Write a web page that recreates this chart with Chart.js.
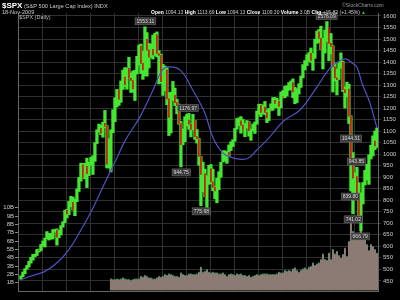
<!DOCTYPE html>
<html>
<head>
<meta charset="utf-8">
<script src="https://cdn.jsdelivr.net/npm/chart.js@4"></script>
<style>
  html, body { margin: 0; padding: 0; background: #000; }
  #wrap { width: 400px; height: 300px; }
</style>
</head>
<body>
<div id="wrap"><canvas id="chart" width="400" height="300"></canvas></div>
<script>
// monthly bars, Jan 1995 .. Nov 2009
const startYear = 1995;
const yearTicks = [1995, 1996, 1997, 1998, 1999, 2000, 2001, 2002, 2003, 2004, 2005, 2006, 2007, 2008, 2009];

const highs = [
  472, 489, 503, 517, 535, 552, 565, 566, 586, 588, 608, 623,
  636, 664, 656, 656, 673, 673, 676, 669, 690, 707, 757, 761,
  795, 817, 814, 805, 849, 899, 961, 960, 960, 983, 965, 986,
  993, 1050, 1106, 1131, 1126, 1139, 1190, 1124, 1067, 1106, 1193, 1245,
  1281, 1282, 1318, 1365, 1376, 1374, 1421, 1353, 1361, 1364, 1425, 1474,
  1478, 1447, 1553, 1528, 1481, 1478, 1517, 1525, 1531, 1449, 1434, 1390,
  1383, 1376, 1267, 1269, 1316, 1287, 1239, 1218, 1142, 1110, 1163, 1173,
  1177, 1132, 1173, 1147, 1107, 1069, 990, 965, 935, 907, 952, 955,
  935, 859, 896, 924, 965, 1015, 1015, 1011, 1040, 1054, 1063, 1112,
  1155, 1158, 1163, 1151, 1133, 1146, 1142, 1109, 1131, 1140, 1188, 1217,
  1217, 1213, 1229, 1191, 1199, 1219, 1246, 1246, 1243, 1233, 1270, 1276,
  1295, 1297, 1311, 1318, 1327, 1290, 1284, 1306, 1340, 1389, 1407, 1432,
  1441, 1461, 1438, 1499, 1535, 1541, 1556, 1503, 1539, 1576, 1524, 1524,
  1471, 1396, 1370, 1397, 1440, 1404, 1292, 1313, 1304, 1167, 1007, 919,
  943, 876, 832, 877, 930, 956, 997, 1039, 1080, 1101, 1114
];
const lows = [
  457, 468, 481, 500, 510, 527, 540, 555, 560, 575, 580, 600,
  597, 633, 627, 631, 632, 661, 605, 637, 649, 683, 703, 723,
  737, 772, 757, 733, 794, 838, 883, 897, 893, 855, 907, 952,
  912, 969, 1046, 1096, 1085, 1074, 1114, 940, 940, 923, 1093, 1141,
  1205, 1212, 1225, 1281, 1294, 1282, 1328, 1268, 1269, 1233, 1348, 1387,
  1350, 1325, 1340, 1339, 1374, 1420, 1413, 1429, 1422, 1305, 1309, 1255,
  1275, 1215, 1081, 1092, 1233, 1211, 1175, 1130, 945, 1041, 1054, 1123,
  1108, 1075, 1106, 1064, 1048, 952, 776, 837, 815, 769, 869, 872,
  841, 807, 789, 846, 900, 966, 970, 960, 990, 1016, 1033, 1056,
  1108, 1124, 1091, 1106, 1076, 1113, 1078, 1060, 1101, 1090, 1130, 1173,
  1163, 1175, 1172, 1137, 1146, 1188, 1191, 1201, 1202, 1168, 1201, 1244,
  1245, 1253, 1277, 1280, 1245, 1219, 1224, 1261, 1290, 1331, 1366, 1385,
  1403, 1399, 1364, 1416, 1481, 1485, 1454, 1370, 1439, 1489, 1406, 1435,
  1270, 1317, 1257, 1324, 1373, 1272, 1200, 1248, 1133, 840, 741, 815,
  805, 730, 667, 784, 866, 888, 869, 979, 992, 1020, 1029
];
const closes = [
  470, 487, 500, 515, 533, 545, 562, 562, 584, 582, 605, 616,
  636, 640, 645, 654, 669, 671, 640, 652, 687, 705, 757, 741,
  786, 791, 757, 801, 848, 885, 954, 899, 947, 915, 955, 970,
  980, 1049, 1102, 1112, 1091, 1134, 1121, 957, 1017, 1099, 1164, 1229,
  1280, 1238, 1286, 1335, 1302, 1373, 1329, 1320, 1283, 1363, 1389, 1469,
  1394, 1366, 1499, 1452, 1421, 1455, 1431, 1518, 1437, 1429, 1315, 1320,
  1366, 1240, 1160, 1249, 1256, 1224, 1211, 1134, 1041, 1060, 1139, 1148,
  1130, 1107, 1147, 1076, 1067, 990, 912, 916, 815, 886, 936, 880,
  856, 841, 848, 917, 964, 975, 990, 1008, 996, 1051, 1058, 1112,
  1131, 1145, 1126, 1107, 1121, 1141, 1102, 1104, 1115, 1130, 1174, 1212,
  1181, 1204, 1181, 1157, 1192, 1191, 1234, 1220, 1229, 1207, 1249, 1248,
  1280, 1281, 1295, 1311, 1270, 1270, 1277, 1304, 1336, 1378, 1401, 1418,
  1438, 1407, 1421, 1482, 1531, 1503, 1455, 1474, 1527, 1549, 1481, 1468,
  1379, 1331, 1323, 1386, 1400, 1280, 1267, 1283, 1165, 969, 896, 903,
  826, 735, 798, 873, 919, 919, 987, 1021, 1057, 1036, 1109
];

// volume in billions, Oct 1998 .. Nov 2009
const volStartMonth = 45;
const volume = [
  1.5, 1.4, 1.4,
  1.5, 1.4, 1.5, 1.6, 1.5, 1.4, 1.4, 1.3, 1.4, 1.5, 1.5, 1.5,
  1.8, 1.7, 1.9, 1.8, 1.6, 1.6, 1.5, 1.5, 1.6, 1.8, 1.7, 1.8,
  2.0, 1.9, 2.1, 2.0, 1.9, 1.8, 1.8, 1.7, 2.2, 2.0, 1.9, 1.9,
  2.1, 2.1, 2.0, 2.0, 2.1, 2.3, 2.9, 2.3, 2.4, 2.6, 2.3, 2.2,
  2.3, 2.2, 2.2, 2.1, 2.1, 2.2, 2.0, 1.8, 2.0, 2.1, 2.0, 1.9,
  2.1, 2.0, 2.1, 1.9, 1.9, 1.8, 1.9, 1.7, 1.8, 1.9, 2.0, 1.9,
  2.0, 2.1, 2.1, 2.1, 2.0, 2.0, 2.0, 2.0, 2.1, 2.3, 2.2, 2.2,
  2.5, 2.4, 2.5, 2.4, 2.7, 2.8, 2.5, 2.3, 2.5, 2.7, 2.8, 2.6,
  2.9, 3.0, 3.4, 3.1, 3.3, 3.4, 3.8, 4.5, 3.8, 3.7, 4.6, 3.8,
  5.0, 4.5, 4.8, 4.3, 4.0, 4.4, 5.2, 4.2, 6.0, 8.2, 7.2, 6.2,
  6.5, 7.0, 7.8, 6.8, 6.3, 5.6, 4.9, 5.6, 5.4, 5.0, 4.6
];

// long moving average
const maYears = [1995.04, 1995.5, 1996.0, 1996.5, 1997.0, 1997.5, 1998.0, 1998.5, 1999.0, 1999.4,
  2000.0, 2000.55, 2000.9, 2001.17, 2001.67, 2002.2, 2002.7, 2003.05, 2003.46, 2003.88,
  2004.46, 2004.88, 2005.3, 2006.0, 2006.67, 2007.38, 2007.92, 2008.3, 2008.6, 2008.85,
  2009.04, 2009.25, 2009.58, 2009.88];
const maValues = [455, 472, 489, 524, 580, 663, 758, 867, 975, 1062,
  1162, 1279, 1360, 1379, 1366, 1279, 1180, 1070, 1005, 984,
  980, 1019, 1062, 1145, 1192, 1292, 1374, 1405, 1413, 1395,
  1379, 1309, 1223, 1113];

// marked highs / lows
const noteYears = [2000.23, 2001.72, 2002.01, 2002.56, 2007.78, 2008.79, 2008.77, 2008.89, 2009.02, 2009.18];
const noteValues = [1553.11, 944.75, 1176.97, 775.68, 1576.09, 1044.31, 839.80, 741.02, 943.85, 666.79];
const noteAbove = [true, false, true, false, true, true, false, false, true, false];

const monthX = i => startYear + (i + 0.5) / 12;

const wickData = highs.map((h, i) => ({ x: monthX(i), y: [lows[i], h] }));
const bodyData = closes.map((c, i) => {
  const prev = i === 0 ? lows[0] : closes[i - 1];
  return { x: monthX(i), y: c < prev ? [c, prev] : null };
});
const volData = volume.map((v, k) => ({ x: monthX(volStartMonth + k), y: v }));
const maData = maYears.map((y, i) => ({ x: y, y: maValues[i] }));

const font = { family: 'Arial, "Liberation Sans", sans-serif', size: 6 };

// header texts
const headerPlugin = {
  id: 'header',
  afterDraw(chart) {
    const ctx = chart.ctx;
    ctx.save();
    ctx.textBaseline = 'alphabetic';
    ctx.textAlign = 'left';
    ctx.fillStyle = '#fff';
    ctx.font = 'bold 8px Arial, "Liberation Sans"';
    ctx.fillText('$SPX', 2, 8);
    ctx.fillStyle = '#ccc';
    ctx.font = '5.6px Arial, "Liberation Sans"';
    ctx.fillText('(S&P 500 Large Cap Index) INDX', 24, 8);
    ctx.fillText('18-Nov-2009', 2, 13.5);
    ctx.fillStyle = '#999';
    ctx.font = '5px Arial, "Liberation Sans"';
    ctx.fillText('\u00A9StockCharts.com', 342, 7);
    ctx.fillStyle = '#bbb';
    ctx.font = '5.5px Arial, "Liberation Sans"';
    ctx.fillText('$SPX (Daily)', 19, 19);

    const parts = [['Open', true], [' 1094.13 ', false], ['High', true], [' 1113.69 ', false],
      ['Low', true], [' 1094.13 ', false], ['Close', true], [' 1109.30 ', false],
      ['Volume', true], [' 3.0B ', false], ['Chg', true], [' +15.82 (+1.45%) ', false]];
    let x = 151;
    parts.forEach(([t, bold]) => {
      ctx.font = (bold ? 'bold ' : '') + '5px Arial, "Liberation Sans"';
      ctx.fillStyle = bold ? '#fff' : '#ccc';
      ctx.fillText(t, x, 13.5);
      x += ctx.measureText(t).width;
    });
    ctx.fillStyle = '#3ee83a';
    ctx.font = '4.5px Arial, "Liberation Sans"';
    ctx.fillText('\u25B2', x, 13.5);
    ctx.restore();
  }
};

// value boxes at highs and lows
const notesPlugin = {
  id: 'notes',
  afterDatasetsDraw(chart) {
    const ctx = chart.ctx;
    const xs = chart.scales.x, ys = chart.scales.y;
    ctx.save();
    ctx.font = '5px Arial, "Liberation Sans"';
    ctx.textAlign = 'center';
    ctx.textBaseline = 'middle';
    noteYears.forEach((yr, i) => {
      const px = xs.getPixelForValue(yr);
      const py = ys.getPixelForValue(noteValues[i]) + (noteAbove[i] ? -5.5 : 5.5);
      const txt = noteValues[i].toFixed(2);
      const w = ctx.measureText(txt).width + 3;
      ctx.fillStyle = '#3a3a3a';
      ctx.fillRect(px - w / 2, py - 3.5, w, 7);
      ctx.strokeStyle = '#6a6a6a';
      ctx.lineWidth = 0.6;
      ctx.strokeRect(px - w / 2, py - 3.5, w, 7);
      ctx.fillStyle = '#ddd';
      ctx.fillText(txt, px, py + 0.3);
    });
    ctx.restore();
  }
};

new Chart(document.getElementById('chart'), {
  type: 'bar',
  data: {
    datasets: [
      {
        type: 'line',
        data: maData,
        yAxisID: 'y',
        borderColor: '#5252c4',
        borderWidth: 1.2,
        pointRadius: 0,
        tension: 0.4,
        order: 1
      },
      {
        data: bodyData,
        yAxisID: 'y',
        backgroundColor: '#d81010',
        barThickness: 1,
        grouped: false,
        order: 2
      },
      {
        data: wickData,
        yAxisID: 'y',
        backgroundColor: '#44e830',
        barThickness: 2.6,
        grouped: false,
        order: 3
      },
      {
        data: volData,
        yAxisID: 'yv',
        backgroundColor: '#8e7d76',
        borderColor: 'rgba(40,150,100,0.8)',
        borderWidth: { top: 1, left: 0, right: 0, bottom: 0 },
        borderSkipped: 'bottom',
        barThickness: 2.1,
        grouped: false,
        order: 5
      }
    ]
  },
  options: {
    responsive: false,
    animation: false,
    layout: { padding: { top: 13, left: 0, right: 0, bottom: 0 } },
    plugins: { legend: { display: false }, tooltip: { enabled: false } },
    scales: {
      x: {
        type: 'linear',
        offset: false,
        min: 1994.92,
        max: 2009.92,
        afterFit(s) { s.height = 9; },
        grid: { offset: false, color: '#303030', lineWidth: 1, tickLength: 0 },
        border: { color: '#666' },
        ticks: {
          stepSize: 1,
          includeBounds: false,
          autoSkip: false,
          maxRotation: 0,
          padding: 1,
          color: '#ccc',
          font: font,
          callback: v => yearTicks.includes(v) ? String(v) : ''
        }
      },
      y: {
        position: 'right',
        min: 406,
        max: 1613,
        afterFit(s) { s.width = 22; },
        grid: { color: '#303030', tickLength: 3 },
        border: { color: '#666' },
        ticks: {
          stepSize: 50,
          includeBounds: false,
          autoSkip: false,
          padding: 2,
          color: '#ccc',
          font: font,
          callback: v => v >= 450 && v <= 1600 ? v : ''
        }
      },
      yv: {
        position: 'left',
        min: 0,
        max: 33.4,
        afterFit(s) { s.width = 18; },
        grid: {
          drawOnChartArea: false,
          tickLength: 3,
          color: c => (c.tick && c.tick.value >= 1 && c.tick.value <= 10) ? '#888' : 'rgba(0,0,0,0)'
        },
        border: { color: '#666' },
        ticks: {
          stepSize: 1,
          autoSkip: false,
          includeBounds: false,
          padding: 1,
          color: '#ccc',
          font: font,
          callback: v => v >= 1 && v <= 10 ? v + 'B' : ''
        }
      }
    }
  },
  plugins: [headerPlugin, notesPlugin]
});
</script>
</body>
</html>
